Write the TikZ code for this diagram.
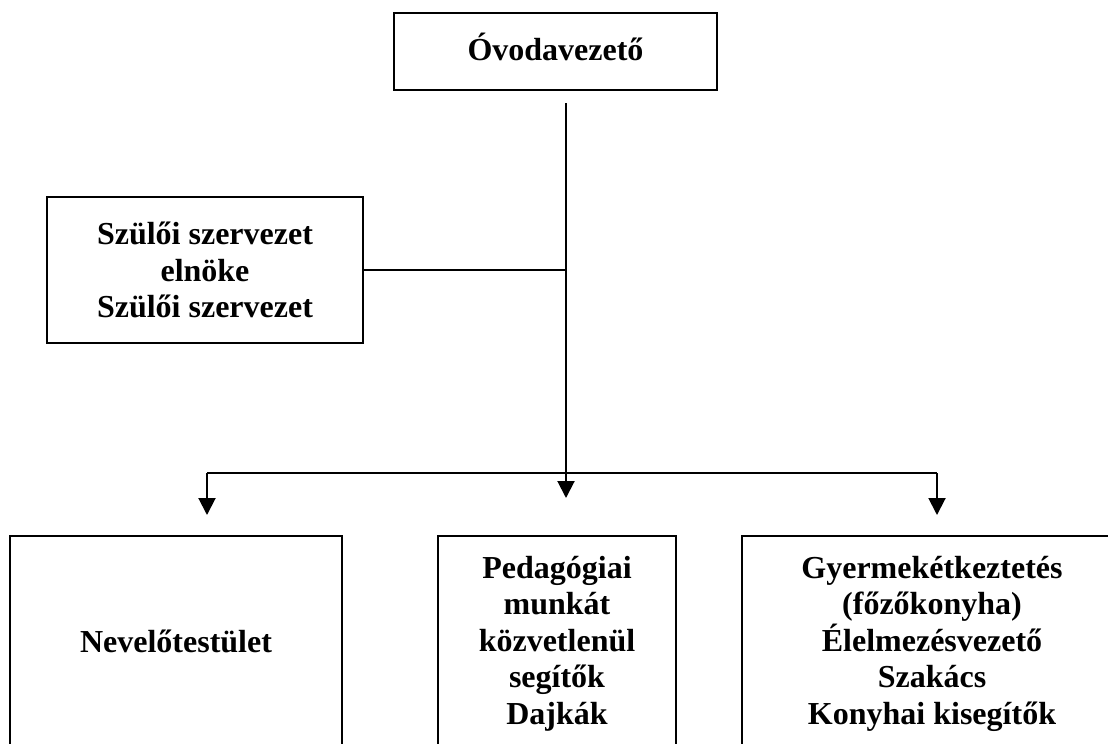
\documentclass[tikz,border=0pt]{standalone}
\usepackage{fontspec}
\setmainfont{Liberation Serif}
\usetikzlibrary{arrows.meta}

\begin{document}
\begin{tikzpicture}[
  x=1pt, y=-1pt,
  every node/.style={font=\fontsize{32}{36.5}\selectfont\bfseries},
  unit/.style={draw, line width=2pt, inner sep=0pt},
  txt/.style={align=center, inner sep=0pt},
  link/.style={line width=1.5pt},
  arr/.style={line width=2pt, -{Triangle[width=17pt,length=17pt]}},
]

\useasboundingbox (0,0) rectangle (1108,744);
\clip (0,0) rectangle (1108,744);

\node [unit, minimum width=323pt, minimum height=77pt, text depth=9pt] (head) at (555.5,51.5) {Óvodavezető};

\node [unit, minimum width=316pt, minimum height=146pt, txt] (parents) at (205,270)
  {Szülői szervezet\\elnöke\\Szülői szervezet};

\node [unit, minimum width=332pt, minimum height=264pt] (teachers) at (176,668) {};
\node [unit, minimum width=238pt, minimum height=264pt] (helpers) at (557,668) {};
\node [unit, minimum width=380pt, minimum height=264pt] (kitchen) at (932,668) {};

\node [txt] (teacherstxt) at (176,641) {Nevelőtestület};
\node [txt, anchor=north] (helperstxt) at (557,556) {Pedagógiai\\munkát\\közvetlenül\\segítők\\Dajkák};
\node [txt, anchor=north] (kitchentxt) at (932,556) {Gyermekétkeztetés\\(főzőkonyha)\\Élelmezésvezető\\Szakács\\Konyhai kisegítők};

\coordinate (trunk) at (566,103);
\coordinate (bar) at (566,473);
\coordinate (lefttip) at (207,515);
\coordinate (midtip) at (566,498);
\coordinate (righttip) at (937,515);

\draw [line width=2.8pt] (trunk) -- (bar);
\draw [arr] (bar) -- (midtip);
\draw [link] (parents.east) -- (parents.east -| bar);
\draw [link] (bar) -- (bar -| lefttip) (bar) -- (bar -| righttip);
\draw [arr] (bar -| lefttip) -- (lefttip);
\draw [arr] (bar -| righttip) -- (righttip);

\end{tikzpicture}
\end{document}
